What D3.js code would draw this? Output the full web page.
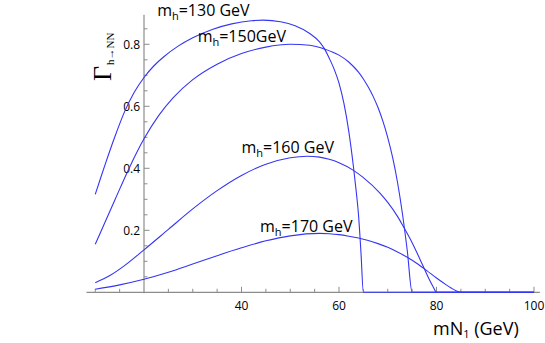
<!DOCTYPE html>
<html lang="en">
<head>
<meta charset="UTF-8">
<title>Gamma h to NN</title>
<script src="https://d3js.org/d3.v7.min.js"></script>
<style>
    body { margin: 0; background: #fff; }
    text { font-family: "Open Sans", "DejaVu Sans", sans-serif; }
</style>
</head>
<body>
<svg id="chart" width="545" height="343"></svg>
<script>
    // values (mN1 in GeV, Gamma)
    const mh130X = [10, 11, 12, 14, 16, 18, 20, 22, 24, 27, 30, 34, 38, 42, 44.5, 48, 51, 54, 56, 57, 58, 59, 60, 61, 62, 63, 63.5, 64, 64.5, 65, 100];
    const mh130Y = [0.316, 0.364, 0.411, 0.501, 0.582, 0.645, 0.693, 0.73, 0.759, 0.794, 0.821, 0.848, 0.866, 0.876, 0.878, 0.873, 0.86, 0.835, 0.808, 0.786, 0.755, 0.72, 0.675, 0.61, 0.52, 0.40, 0.33, 0.25, 0.13, 0, 0];

    const mh150X = [10, 12, 14, 17, 20, 23, 26, 30, 35, 40, 45, 50, 54, 57, 60, 62, 64, 65, 66, 67, 68, 69, 70, 71, 72, 73, 74, 75, 100];
    const mh150Y = [0.155, 0.226, 0.297, 0.402, 0.495, 0.57, 0.628, 0.686, 0.736, 0.77, 0.791, 0.80, 0.797, 0.785, 0.765, 0.743, 0.71, 0.688, 0.662, 0.632, 0.596, 0.552, 0.499, 0.435, 0.355, 0.255, 0.135, 0, 0];

    const mh160X = [10, 13, 16, 20, 25, 30, 35, 40, 45, 50, 53.5, 56, 58, 60, 62.8, 65, 68.4, 70, 72, 73.2, 75, 77.3, 78.5, 79.3, 80, 100];
    const mh160Y = [0.031, 0.054, 0.086, 0.137, 0.203, 0.269, 0.328, 0.377, 0.413, 0.434, 0.439, 0.436, 0.429, 0.418, 0.395, 0.37, 0.32, 0.29, 0.245, 0.212, 0.16, 0.083, 0.042, 0.018, 0, 0];

    const mh170X = [10, 15, 20, 25, 30, 35, 40, 45, 50, 56, 58, 60, 62, 64, 66, 68, 70, 72, 74, 76, 78, 80, 82, 83, 84, 85, 100];
    const mh170Y = [0.0097, 0.024, 0.042, 0.0645, 0.091, 0.118, 0.1435, 0.166, 0.182, 0.19, 0.189, 0.186, 0.181, 0.175, 0.167, 0.157, 0.145, 0.13, 0.113, 0.093, 0.07, 0.046, 0.024, 0.014, 0.005, 0, 0];

    const higgsMasses = ["130 GeV", "150GeV", "160 GeV", "170 GeV"];
    const xMajorTicks = [40, 60, 80, 100];
    const yMajorTicks = [0.2, 0.4, 0.6, 0.8];

    let svg = d3.select("#chart");

    let x = d3.scaleLinear().domain([20, 100]).range([144, 534]);
    let y = d3.scaleLinear().domain([0, 0.8]).range([292.3, 44.3]);

    const axisColor = "#8c8c8c";
    const curveColor = "#3535f5";

    // minor ticks every 5 GeV / 0.05
    let xMinor = d3.range(10, 101, 5).filter(v => v !== 20 && !xMajorTicks.includes(v));
    let yMinor = d3.range(1, 18).map(i => i * 0.05).filter(v => !yMajorTicks.some(t => Math.abs(t - v) < 1e-6));

    let axes = svg.append("g");

    // x axis line
    axes.append("line")
        .attr("x1", x(8.2)).attr("x2", x(101.2))
        .attr("y1", y(0)).attr("y2", y(0))
        .attr("stroke", axisColor).attr("stroke-width", 1.2);

    // y axis line
    axes.append("line")
        .attr("x1", x(20)).attr("x2", x(20))
        .attr("y1", y(0.895)).attr("y2", y(0) + 1)
        .attr("stroke", axisColor).attr("stroke-width", 1.2);

    axes.selectAll(".xmaj")
        .data(xMajorTicks)
        .enter().append("line")
        .attr("x1", d => x(d)).attr("x2", d => x(d))
        .attr("y1", y(0)).attr("y2", y(0) - 5.5)
        .attr("stroke", axisColor);

    axes.selectAll(".xmin")
        .data(xMinor)
        .enter().append("line")
        .attr("x1", d => x(d)).attr("x2", d => x(d))
        .attr("y1", y(0)).attr("y2", y(0) - 3.5)
        .attr("stroke", axisColor);

    axes.selectAll(".ymaj")
        .data(yMajorTicks)
        .enter().append("line")
        .attr("x1", x(20)).attr("x2", x(20) + 5.5)
        .attr("y1", d => y(d)).attr("y2", d => y(d))
        .attr("stroke", axisColor);

    axes.selectAll(".ymin")
        .data(yMinor)
        .enter().append("line")
        .attr("x1", x(20)).attr("x2", x(20) + 3.5)
        .attr("y1", d => y(d)).attr("y2", d => y(d))
        .attr("stroke", axisColor);

    // tick labels
    axes.selectAll(".xlab")
        .data(xMajorTicks)
        .enter().append("text")
        .attr("x", d => x(d)).attr("y", y(0) + 18)
        .attr("text-anchor", "middle")
        .attr("font-size", 12)
        .text(d => d);

    axes.selectAll(".ylab")
        .data(yMajorTicks)
        .enter().append("text")
        .attr("x", x(20) - 4).attr("y", d => y(d) + 4.5)
        .attr("text-anchor", "end")
        .attr("font-size", 12)
        .text(d => d.toFixed(1));

    // curves
    let line = d3.line()
        .x(d => x(d[0]))
        .y(d => y(d[1]))
        .curve(d3.curveMonotoneX);

    let series = [
        d3.zip(mh130X, mh130Y),
        d3.zip(mh150X, mh150Y),
        d3.zip(mh160X, mh160Y),
        d3.zip(mh170X, mh170Y)
    ];

    svg.append("g").selectAll("path")
        .data(series)
        .enter().append("path")
        .attr("d", line)
        .attr("fill", "none")
        .attr("stroke", curveColor)
        .attr("stroke-width", 1.1);

    // curve labels, anchored in data units
    let labelAt = [[22.7, 0.891], [31, 0.808], [40, 0.448], [43.8, 0.195]];
    labelAt.forEach((p, i) => {
        let t = svg.append("text")
            .attr("x", x(p[0])).attr("y", y(p[1]))
            .attr("font-size", 16);
        t.append("tspan").text("m");
        t.append("tspan").attr("font-size", 11).attr("dy", 4).text("h");
        t.append("tspan").attr("dy", -4).text("=" + higgsMasses[i]);
    });

    // y axis title
    let yt = svg.append("text")
        .attr("transform", "translate(111,81) rotate(-90)");
    yt.append("tspan").attr("font-size", 26).style("font-family", "'Liberation Serif', serif").text("Γ");
    yt.append("tspan").attr("font-size", 11).attr("dy", 3).attr("dx", 1)
        .style("font-family", "'Liberation Serif', serif").text("h→NN");

    // x axis title
    let xt = svg.append("text")
        .attr("x", 433).attr("y", 335)
        .attr("font-size", 18);
    xt.append("tspan").text("mN");
    xt.append("tspan").attr("font-size", 11).attr("dy", 3).text("1");
    xt.append("tspan").attr("dy", -3).text(" (GeV)");
</script>
</body>
</html>
